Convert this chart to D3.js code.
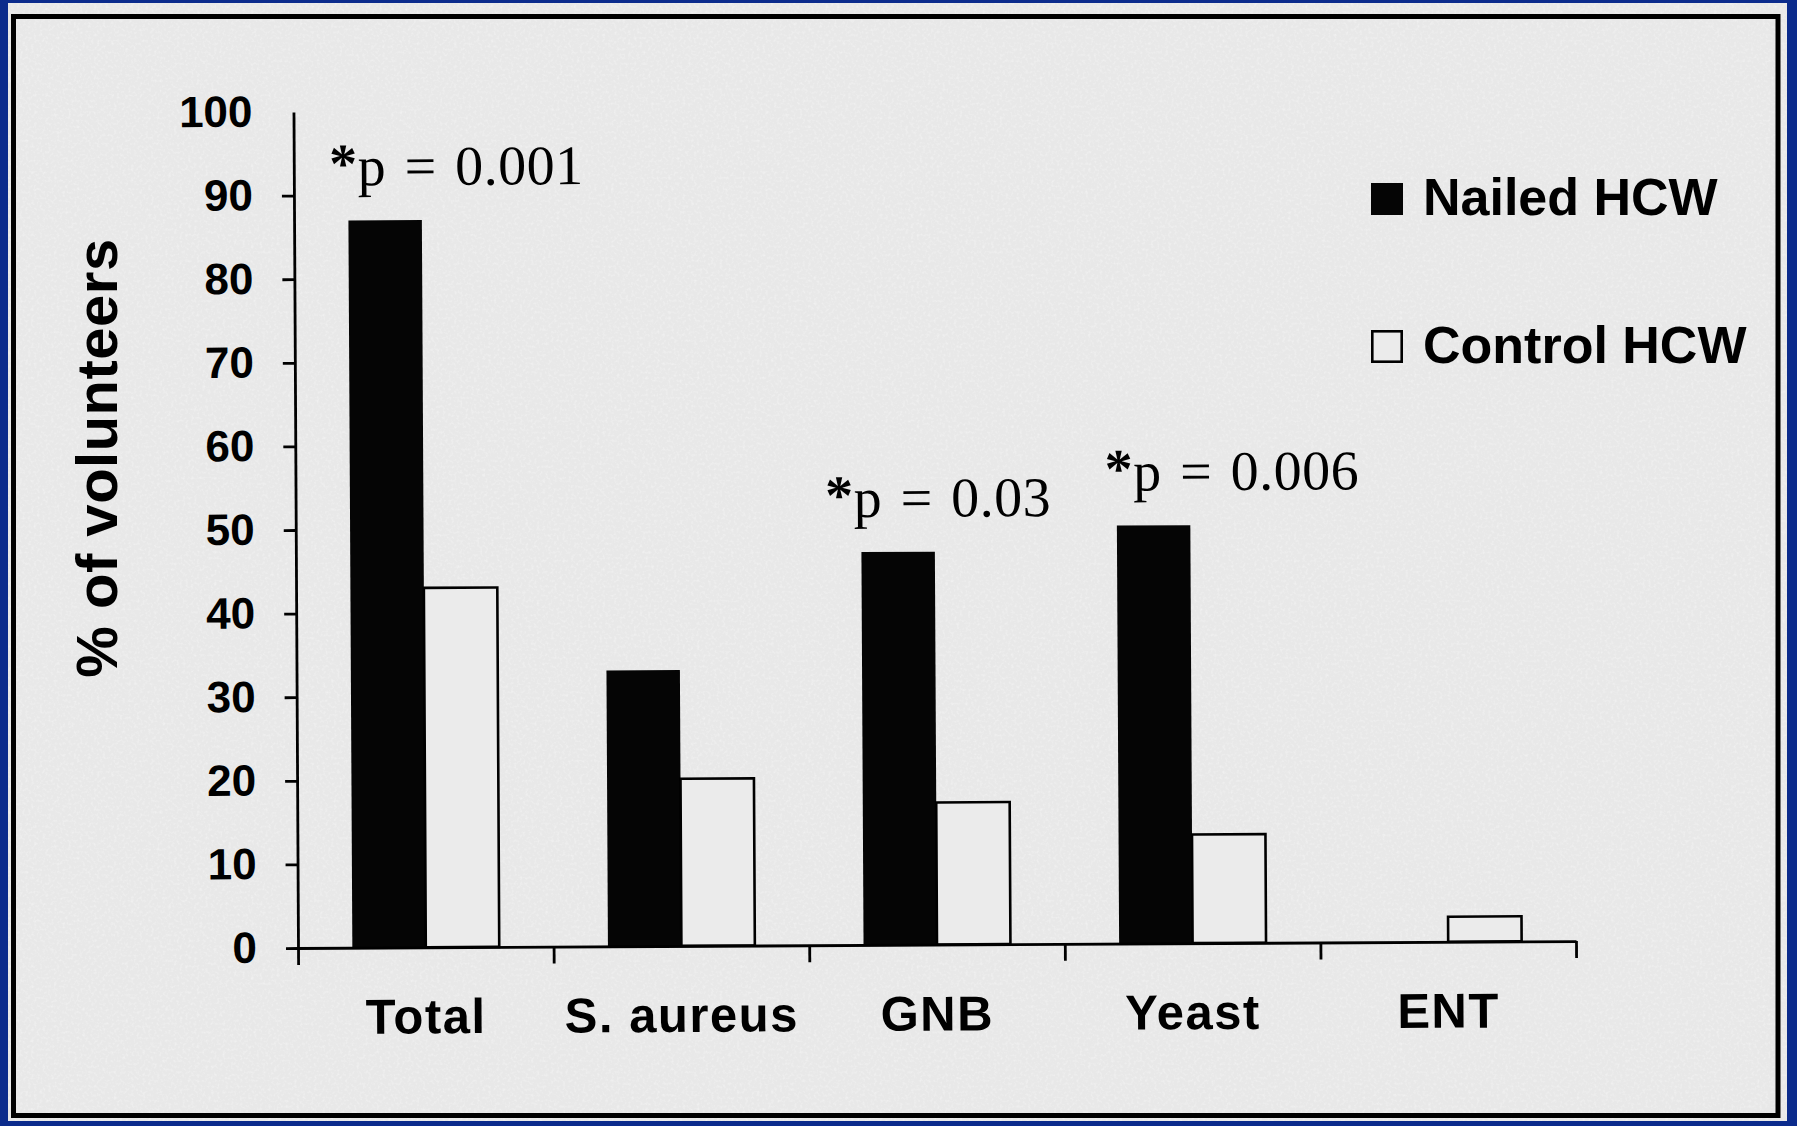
<!DOCTYPE html>
<html>
<head>
<meta charset="utf-8">
<script src="https://cdn.jsdelivr.net/npm/d3@7"></script>
<style>
  body { margin: 0; background: #0b2b8c; }
  svg { display: block; }
</style>
</head>
<body>
<svg id="drawing_region"></svg>
<script>
// data
const categories = ['Total', 'S. aureus', 'GNB', 'Yeast', 'ENT'];
const nailed = [87, 33, 47, 50, 0];
const control = [43, 20, 17, 13, 3];
const yTicks = [0, 10, 20, 30, 40, 50, 60, 70, 80, 90, 100];
const seriesNames = ['Nailed HCW', 'Control HCW'];
const pCats = ['Total', 'GNB', 'Yeast'];
const pLabels = ['p = 0.001', 'p = 0.03', 'p = 0.006'];

const width = 1797, height = 1126;
const margin = {top: 112, left: 298};
const inner_width = 1278, inner_height = 836;
const sans = '"Liberation Sans", Arial, sans-serif';
const serif = '"Liberation Serif", "Times New Roman", serif';
const paper = '#e8e8e8';

const svg = d3.select('#drawing_region')
    .attr('width', width)
    .attr('height', height);

// speckled paper texture
const defs = svg.append('defs');
const f = defs.append('filter').attr('id', 'grain').attr('x', 0).attr('y', 0).attr('width', '100%').attr('height', '100%');
f.append('feTurbulence').attr('type', 'fractalNoise').attr('baseFrequency', 0.35).attr('numOctaves', 2).attr('seed', 3);
f.append('feColorMatrix').attr('type', 'matrix')
    .attr('values', '0 0 0 0 1  0 0 0 0 1  0 0 0 0 1  0 0 0 1.6 -0.75');

// paper + black frame
svg.append('rect').attr('x', 0).attr('y', 0).attr('width', width).attr('height', height).attr('fill', '#0b2b8c');
svg.append('rect').attr('x', 8).attr('y', 3).attr('width', 1779).attr('height', 1118).attr('fill', paper);
svg.append('rect').attr('x', 8).attr('y', 3).attr('width', 1779).attr('height', 1118)
    .attr('filter', 'url(#grain)').attr('opacity', 0.5);
svg.append('rect').attr('x', 13.5).attr('y', 16.5).attr('width', 1764.5).attr('height', 1099)
    .attr('fill', 'none').attr('stroke', '#000').attr('stroke-width', 5);

// the scan is a little tilted
const chart = svg.append('g')
    .attr('transform', `translate(${margin.left}, ${margin.top}) rotate(-0.31, 0, ${inner_height})`);

const x0 = d3.scaleBand().domain(categories).range([0, inner_width]).paddingInner(0).paddingOuter(0);
const x1 = d3.scaleBand().domain(seriesNames).range([0, x0.bandwidth()]).paddingInner(0).paddingOuter(0.74);
const yscale = d3.scaleLinear().domain([0, 100]).range([inner_height, 0]);
const edges = d3.scaleLinear().domain([0, categories.length]).range([0, inner_width]);

// bars
const rows = categories.map((c, i) => ({cat: c, vals: [nailed[i], control[i]]}));
const groups = chart.selectAll('g.cat').data(rows).enter()
    .append('g').attr('class', 'cat')
    .attr('transform', d => `translate(${x0(d.cat)}, 0)`);

groups.selectAll('rect').data(d => d.vals.map((v, k) => ({name: seriesNames[k], v: v}))).enter()
    .append('rect')
    .attr('x', d => x1(d.name))
    .attr('y', d => yscale(d.v))
    .attr('width', x1.bandwidth())
    .attr('height', d => inner_height - yscale(d.v))
    .attr('fill', d => d.name === seriesNames[0] ? '#050505' : '#ebebeb')
    .attr('stroke', d => d.name === seriesNames[0] || d.v === 0 ? 'none' : '#000')
    .attr('stroke-width', 2.6);

// y axis
const yaxis = d3.axisLeft(yscale).tickValues(yTicks).tickSize(12).tickSizeOuter(0).tickPadding(29);
const yg = chart.append('g').call(yaxis);
yg.select('.domain').attr('stroke-width', 2.8);
yg.selectAll('.tick line').attr('stroke-width', 2.8).filter(d => d === 100).remove();
yg.selectAll('.tick text').attr('font-family', sans).attr('font-weight', 'bold').attr('font-size', 44).attr('fill', '#000');

// x axis with boundary ticks
const xaxis = d3.axisBottom(edges).tickValues(d3.range(categories.length + 1)).tickFormat('').tickSize(17).tickSizeOuter(0);
const xg = chart.append('g').attr('transform', `translate(0, ${inner_height})`).call(xaxis);
xg.selectAll('path, line').attr('stroke-width', 2.8);

chart.selectAll('text.cat').data(categories).enter()
    .append('text').attr('class', 'cat')
    .attr('x', d => x0(d) + x0.bandwidth() / 2)
    .attr('y', inner_height + 86)
    .attr('text-anchor', 'middle')
    .attr('font-family', sans).attr('font-weight', 'bold').attr('font-size', 49)
    .attr('letter-spacing', 1.5)
    .text(d => d);

// p-value notes above the nailed bars
const pNudge = [-19, -36, -12];
pCats.forEach((c, i) => {
    const v = nailed[categories.indexOf(c)];
    const t = chart.append('text')
        .attr('x', x0(c) + x1(seriesNames[0]) + pNudge[i])
        .attr('y', yscale(v) - 35)
        .attr('font-family', serif).attr('font-size', 56)
        .attr('letter-spacing', 0.5).attr('word-spacing', 4);
    t.append('tspan').attr('font-weight', 'bold').attr('dy', -3).text('*');
    t.append('tspan').attr('dy', 3).text(pLabels[i]);
});

// y title
svg.append('text')
    .attr('transform', 'translate(117, 458) rotate(-90)')
    .attr('text-anchor', 'middle')
    .attr('font-family', sans).attr('font-weight', 'bold').attr('font-size', 58)
    .attr('letter-spacing', 0.5)
    .text('% of volunteers');

// legend
const legend = svg.selectAll('g.leg').data(seriesNames).enter()
    .append('g').attr('class', 'leg')
    .attr('transform', (d, i) => `translate(1371, ${i === 0 ? 183 : 330})`);
legend.append('rect')
    .attr('x', (d, i) => i === 0 ? 0 : 1.3).attr('y', (d, i) => i === 0 ? 0 : 1.3)
    .attr('width', (d, i) => i === 0 ? 32 : 29.4).attr('height', (d, i) => i === 0 ? 32 : 30.4)
    .attr('fill', (d, i) => i === 0 ? '#050505' : '#ebebeb')
    .attr('stroke', (d, i) => i === 0 ? 'none' : '#000').attr('stroke-width', 2.6);
legend.append('text')
    .attr('x', 52).attr('y', (d, i) => i === 0 ? 32 : 33)
    .attr('font-family', sans).attr('font-weight', 'bold').attr('font-size', 52)
    .text(d => d);
</script>
</body>
</html>
